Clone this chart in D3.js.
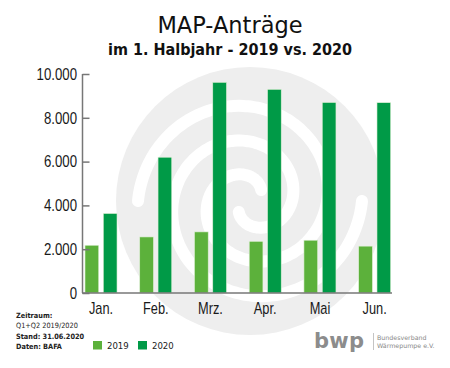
<!DOCTYPE html>
<html>
<head>
<meta charset="utf-8">
<script src="https://cdn.jsdelivr.net/npm/d3@7"></script>
<style>
  body { margin: 0; background: #fff; }
  svg { display: block; }
  text { font-family: "DejaVu Sans", sans-serif; }
</style>
</head>
<body>
<svg id="chart" width="450" height="368"></svg>
<script>
// data
var months = ["Jan.", "Feb.", "Mrz.", "Apr.", "Mai", "Jun."];
var series = ["2019", "2020"];
var values2019 = [2180, 2560, 2790, 2360, 2410, 2140];
var values2020 = [3630, 6200, 9620, 9300, 8700, 8690];
var yTicks = [0, 2000, 4000, 6000, 8000, 10000];
var notes = ["Zeitraum:", "Q1+Q2 2019/2020", "Stand: 31.06.2020", "Daten: BAFA"];

var colors = { "2019": "#5cb13b", "2020": "#009a47" };

var svg = d3.select("#chart");

var de = d3.formatLocale({ decimal: ",", thousands: ".", grouping: [3], currency: ["", "€"] });
var fmt = de.format(",");

// narrow label font (squeezed Liberation Sans)
var narrow = 0.8;

// background spiral (watermark)
var cx = 250, cy = 201;
var bg = svg.append("g");
bg.append("circle")
    .attr("cx", cx).attr("cy", cy).attr("r", 134)
    .attr("fill", "#eeeeee");

function arm(a0) {
    var r0 = 112, pitch = 70, pts = [];
    for (var t = 0; t <= 2 * Math.PI * 1.38; t += 0.05) {
        var r = r0 - pitch * t / (2 * Math.PI);
        pts.push([cx + r * Math.cos(a0 + t), cy + r * Math.sin(a0 + t)]);
    }
    return pts;
}
var spiralLine = d3.line().curve(d3.curveCatmullRom);
[Math.PI, 0].forEach(function (a0) {
    bg.append("path")
        .attr("d", spiralLine(arm(a0)))
        .attr("fill", "none")
        .attr("stroke", "#fff")
        .attr("stroke-width", 12)
        .attr("stroke-linecap", "round");
});

// titles
svg.append("text")
    .attr("x", 230).attr("y", 33)
    .attr("text-anchor", "middle")
    .style("font-size", "22.5px")
    .attr("fill", "#111")
    .text("MAP-Anträge");

svg.append("text")
    .attr("x", 230).attr("y", 55)
    .attr("text-anchor", "middle")
    .style("font-size", "16px")
    .style("font-weight", "bold")
    .style("font-stretch", "condensed")
    .style("font-family", "'DejaVu Sans Condensed', 'DejaVu Sans', sans-serif")
    .attr("fill", "#111")
    .text("im 1. Halbjahr - 2019 vs. 2020");

// scales
var x0 = d3.scaleBand()
    .domain(months)
    .range([85, 390.7])
    .paddingInner(0.415)
    .paddingOuter(0);

var x1 = d3.scaleBand()
    .domain(series)
    .range([0, x0.bandwidth()])
    .paddingInner(0.25);

var y = d3.scaleLinear()
    .domain([0, 10000])
    .range([293, 74]);

var rows = months.map(function (m, i) {
    return { month: m, values: [{ key: "2019", value: values2019[i] }, { key: "2020", value: values2020[i] }] };
});

// bars
var groups = svg.append("g").selectAll("g")
    .data(rows)
    .join("g")
    .attr("transform", function (d) { return "translate(" + x0(d.month) + ",0)"; });

groups.selectAll("rect")
    .data(function (d) { return d.values; })
    .join("rect")
    .attr("x", function (d) { return x1(d.key); })
    .attr("y", function (d) { return y(d.value); })
    .attr("width", x1.bandwidth())
    .attr("height", function (d) { return y(0) - y(d.value); })
    .attr("fill", function (d) { return colors[d.key]; })
    .attr("stroke", "#dff0d6")
    .attr("stroke-width", 0.6);

// y axis
var yAxis = svg.append("g")
    .attr("transform", "translate(82.5,0)")
    .call(d3.axisRight(y).tickValues(yTicks).tickSize(7).tickFormat(""));
yAxis.select(".domain").attr("stroke", "#777").attr("stroke-width", 1.5)
    .attr("d", "M0," + y(10000) + "V" + y(0));
yAxis.selectAll(".tick line").attr("stroke", "#777").attr("stroke-width", 1.5);

svg.append("g").selectAll("text")
    .data(yTicks)
    .join("text")
    .attr("transform", function (d) { return "translate(77," + (y(d) + 5.8) + ") scale(" + narrow + ",1)"; })
    .attr("text-anchor", "end")
    .style("font-family", "'Liberation Sans', Arial, sans-serif")
    .style("font-size", "16.5px")
    .attr("fill", "#1a1a1a")
    .text(function (d) { return fmt(d); });

// x axis
svg.append("line")
    .attr("x1", 82).attr("x2", 392)
    .attr("y1", y(0)).attr("y2", y(0))
    .attr("stroke", "#777").attr("stroke-width", 1.5);

svg.append("g").selectAll("text")
    .data(months)
    .join("text")
    .attr("transform", function (d) { return "translate(" + (x0(d) + x0.bandwidth() / 2) + ",313.5) scale(" + narrow + ",1)"; })
    .attr("text-anchor", "middle")
    .style("font-family", "'Liberation Sans', Arial, sans-serif")
    .style("font-size", "16px")
    .attr("fill", "#1a1a1a")
    .text(function (d) { return d; });

// notes bottom left
svg.append("g").selectAll("text")
    .data(notes)
    .join("text")
    .attr("x", 16)
    .attr("y", function (d, i) { return 318 + i * 10.3; })
    .style("font-family", "'DejaVu Sans Condensed', 'DejaVu Sans', sans-serif")
    .style("font-stretch", "condensed")
    .style("font-size", "7.3px")
    .style("font-weight", function (d, i) { return i == 1 ? "normal" : "bold"; })
    .attr("fill", "#222")
    .text(function (d) { return d; });

// legend
var legend = svg.append("g").selectAll("g")
    .data(series)
    .join("g")
    .attr("transform", function (d, i) { return "translate(" + (93 + i * 45) + ",341)"; });
legend.append("rect")
    .attr("width", 9).attr("height", 8.5)
    .attr("fill", function (d) { return colors[d]; });
legend.append("text")
    .attr("x", 14).attr("y", 8.3)
    .style("font-family", "'DejaVu Sans Condensed', 'DejaVu Sans', sans-serif")
    .style("font-stretch", "condensed")
    .style("font-size", "9.5px")
    .attr("fill", "#222")
    .text(function (d) { return d; });

// logo
var logo = svg.append("g");
logo.append("text")
    .attr("x", 314).attr("y", 348)
    .style("font-size", "21px")
    .style("font-weight", "bold")
    .style("letter-spacing", "0.3px")
    .attr("fill", "#8c8c8c")
    .text("bwp");
logo.append("line")
    .attr("x1", 373.5).attr("x2", 373.5)
    .attr("y1", 333).attr("y2", 350)
    .attr("stroke", "#aaa").attr("stroke-width", 0.7);
logo.append("text")
    .attr("x", 377).attr("y", 339.5)
    .style("font-size", "6.3px")
    .attr("fill", "#888")
    .text("Bundesverband");
logo.append("text")
    .attr("x", 377).attr("y", 347.5)
    .style("font-size", "6.3px")
    .attr("fill", "#888")
    .text("Wärmepumpe e.V.");
</script>
</body>
</html>
